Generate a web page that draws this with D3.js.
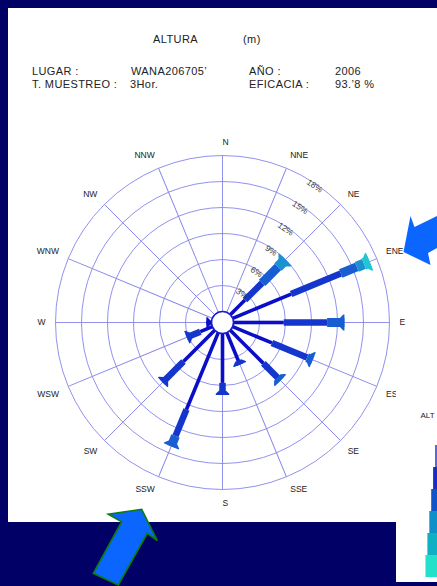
<!DOCTYPE html>
<html>
<head>
<meta charset="utf-8">
<script src="https://cdn.jsdelivr.net/npm/d3@7"></script>
<style>
  body { margin: 0; background: #000066; }
  svg { display: block; font-family: "Liberation Sans", Arial, sans-serif; }
</style>
</head>
<body>
<svg id="chart" width="437" height="586"></svg>
<script>
// wind directions, clockwise from north
const dirs = ["N", "NNE", "NE", "ENE", "E", "ESE", "SE", "SSE", "S", "SSW", "SW", "WSW", "W", "WNW", "NW", "NNW"];
// frequency (%) per height class and direction
const c1 = [0, 0, 2.4, 7.3, 5.8, 4.9, 5.4, 3.6, 5.7, 9.6, 5.1, 1.5, 0.6, 0, 0, 0];
const c2 = [0, 0, 2.8, 6.2, 5.0, 4.4, 2.5, 0.4, 1.4, 3.3, 3.4, 1.7, 0, 0, 0, 0];
const c3 = [0, 0, 2.6, 2.0, 2.0, 0.7, 0.3, 0, 0, 1.3, 0, 0, 0, 0, 0, 0];
const c4 = [0, 0, 1.2, 0.9, 0, 0, 0, 0, 0, 0, 0, 0, 0, 0, 0, 0];
const c5 = [0, 0, 0, 0.7, 0, 0, 0, 0, 0, 0, 0, 0, 0, 0, 0, 0];
const classKeys = ["c1", "c2", "c3", "c4", "c5"];
const classColors = ["#0a0ec8", "#1436cc", "#185ed2", "#1a92d2", "#22c6d2"];
const classWidths = [3.6, 6.5, 9, 10.5, 12];
const ringTicks = [3, 6, 9, 12, 15, 18];
const legendColors = ["#5a66dc", "#1430c4", "#1054ca", "#1090c8", "#10b0c4", "#22e0ca"];

const svg = d3.select("#chart");
const cx = 222.5, cy = 322.5;

const r = d3.scaleLinear().domain([0, 18]).range([11, 167]);
const angle = d3.scaleLinear().domain([0, dirs.length]).range([0, 360]);

// panels
svg.append("path")
  .attr("d", "M8,8 H437 V582 H396 V522 H8 Z")
  .attr("fill", "#fff");

// header
const header = [
  { t: "ALTURA", x: 153, y: 43 }, { t: "(m)", x: 243, y: 43 },
  { t: "LUGAR :", x: 32, y: 75 }, { t: "WANA206705\u2019", x: 131, y: 75 },
  { t: "AÑO :", x: 249, y: 75 }, { t: "2006", x: 335, y: 75 },
  { t: "T. MUESTREO :", x: 32, y: 87.5 }, { t: "3Hor.", x: 130, y: 87.5 },
  { t: "EFICACIA :", x: 249, y: 87.5 }, { t: "93.\u20198 %", x: 335, y: 87.5 }
];
svg.append("g").selectAll("text").data(header).enter().append("text")
  .attr("x", d => d.x).attr("y", d => d.y)
  .attr("font-size", "11px").attr("letter-spacing", "0.4px").attr("fill", "#222")
  .text(d => d.t);

const rose = svg.append("g").attr("transform", `translate(${cx},${cy})`);

// grid
rose.append("g").selectAll("circle").data(ringTicks).enter().append("circle")
  .attr("r", d => r(d)).attr("fill", "none")
  .attr("stroke", "#8484ec").attr("stroke-width", 0.9);

rose.append("g").selectAll("line").data(dirs).enter().append("line")
  .attr("transform", (d, i) => `rotate(${angle(i)})`)
  .attr("y1", -r(0)).attr("y2", -r(18))
  .attr("stroke", "#8484ec").attr("stroke-width", 0.9);

// direction labels
rose.append("g").selectAll("text").data(dirs).enter().append("text")
  .each(function (d, i) {
    const a = angle(i) * Math.PI / 180;
    const s = Math.sin(a), c = Math.cos(a);
    const rr = 177;
    d3.select(this)
      .attr("x", rr * s).attr("y", -rr * c)
      .attr("text-anchor", s < -0.01 ? "end" : "start")
      .attr("dy", c > 0.3 ? "-0.1em" : c < -0.3 ? "0.75em" : "0.35em");
  })
  .attr("font-size", "8.5px").attr("fill", "#222")
  .text(d => d);

// stacked bars
const rows = dirs.map((d, i) => ({ dir: d, c1: c1[i], c2: c2[i], c3: c3[i], c4: c4[i], c5: c5[i] }));
const stacked = d3.stack().keys(classKeys)(rows);

const bars = rose.append("g");
stacked.forEach((layer, k) => {
  bars.append("g").selectAll("rect")
    .data(layer.map((v, i) => ({ i, y0: v[0], y1: v[1] })).filter(v => v.y1 > v.y0))
    .enter().append("rect")
    .attr("transform", d => `rotate(${angle(d.i)})`)
    .attr("x", -classWidths[k] / 2)
    .attr("width", classWidths[k])
    .attr("y", d => -r(d.y1))
    .attr("height", d => r(d.y1) - r(d.y0))
    .attr("fill", classColors[k]);
});

// flared end caps
const caps = rows.map((row, i) => {
  let last = -1;
  classKeys.forEach((key, k) => { if (row[key] > 0) last = k; });
  return { i, k: last, total: d3.sum(classKeys, key => row[key]) };
}).filter(d => d.k >= 0);

bars.append("g").selectAll("path").data(caps).enter().append("path")
  .attr("transform", d => `rotate(${angle(d.i)})`)
  .attr("d", d => {
    const e = r(d.total), w = classWidths[d.k] / 2, f = w + 3.5;
    return `M${-w},${-(e - 4.5)} L${-f},${-(e - 1.2)} L${-f},${-e} L${f},${-e} L${f},${-(e - 1.2)} L${w},${-(e - 4.5)} Z`;
  })
  .attr("fill", d => classColors[d.k]);

// calm circle
rose.append("circle").attr("r", r(0))
  .attr("fill", "#fff").attr("stroke", "#1a1acc").attr("stroke-width", 1.6);

// ring labels
const labAng = 34;
rose.append("g").selectAll("text").data(ringTicks).enter().append("text")
  .attr("transform", d => {
    const a = labAng * Math.PI / 180, rr = r(d) - 2;
    return `translate(${rr * Math.sin(a)},${-rr * Math.cos(a)}) rotate(${labAng})`;
  })
  .attr("text-anchor", "middle").attr("dy", "0.35em")
  .attr("font-size", "8.5px").attr("fill", "#3a3a3a")
  .text(d => d + "%");

// legend panel (partly off-page)
svg.append("rect").attr("x", 396).attr("y", 388).attr("width", 41).attr("height", 194).attr("fill", "#fff");
svg.append("text").attr("x", 420.5).attr("y", 418).attr("font-size", "8px").attr("fill", "#222").text("ALT");

const ly = d3.scaleBand().domain(d3.range(legendColors.length)).range([445, 577]);
const lx = d3.scaleLinear().domain([0, legendColors.length - 1]).range([435, 425.5]);
svg.append("g").selectAll("rect").data(legendColors).enter().append("rect")
  .attr("x", (d, i) => lx(i)).attr("width", (d, i) => 437 - lx(i))
  .attr("y", (d, i) => ly(i)).attr("height", ly.bandwidth())
  .attr("fill", d => d);

// pointer arrows
svg.append("path")
  .attr("d", "M403.5,252 L410.5,216 L414.5,227 L437,216 L437,248 L428,253 L430.5,265 Z")
  .attr("fill", "#0a66ff");

svg.append("path")
  .attr("d", "M141.7,509.3 L157.3,540.7 L147.3,533.3 L118.3,585 L93.3,573.3 L121.7,521.7 L108.3,514.3 Z")
  .attr("fill", "#0a66ff").attr("stroke", "#0b7d0b").attr("stroke-width", 1.6)
  .attr("stroke-linejoin", "miter");
</script>
</body>
</html>
